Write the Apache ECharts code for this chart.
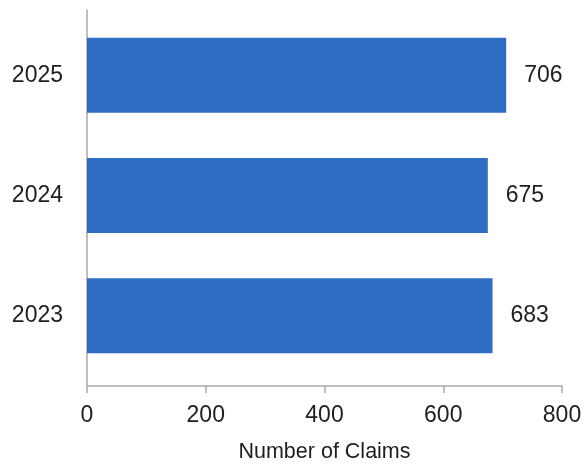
<!DOCTYPE html>
<html>
<head>
<meta charset="utf-8">
<script src="https://cdn.jsdelivr.net/npm/echarts@6/dist/echarts.min.js"></script>
<style>
  html, body { margin: 0; padding: 0; background: #ffffff; }
  #chart { width: 587px; height: 468px; }
</style>
</head>
<body>
<div id="chart"></div>
<script>
const categories = ['2023', '2024', '2025'];
const claims = [683, 675, 706];
const xTicks = [0, 200, 400, 600, 800];
const xTitle = 'Number of Claims';

const narrow = "'Liberation Sans Narrow', 'Arial Narrow', 'Liberation Sans', Arial, sans-serif";
const textColor = '#1e1e1e';
const axisColor = '#a9a9a9';

const chart = echarts.init(document.getElementById('chart'), null, { renderer: 'canvas' });
chart.setOption({
  backgroundColor: '#ffffff',
  animation: false,
  grid: [
    { left: 87, right: 25, top: 15, height: 361 },
    { left: 87, right: 25, top: 10, height: 382 }
  ],
  xAxis: [
    { gridIndex: 0, type: 'value', min: xTicks[0], max: xTicks[xTicks.length - 1], interval: 200, show: false },
    {
      gridIndex: 1, type: 'value', min: xTicks[0], max: xTicks[xTicks.length - 1], interval: 200,
      axisLine: { show: true, lineStyle: { color: axisColor, width: 1.5 } },
      axisTick: { show: true, length: 7, lineStyle: { color: axisColor, width: 1.5 } },
      axisLabel: { color: textColor, fontFamily: narrow, fontSize: 23, margin: 18 },
      splitLine: { show: false },
      name: xTitle, nameLocation: 'middle', nameGap: 55,
      nameTextStyle: { color: textColor, fontFamily: "'Liberation Sans', Arial, sans-serif", fontSize: 21.5 }
    }
  ],
  yAxis: [
    {
      gridIndex: 0, type: 'category', data: categories,
      axisLine: { show: false }, axisTick: { show: false },
      axisLabel: { color: textColor, fontFamily: narrow, fontSize: 23, margin: 24 }
    },
    {
      gridIndex: 1, type: 'value', min: 0, max: 1,
      axisLine: { show: true, lineStyle: { color: axisColor, width: 1.5 } },
      axisTick: { show: false }, axisLabel: { show: false }, splitLine: { show: false }
    }
  ],
  series: [{
    type: 'bar',
    xAxisIndex: 0, yAxisIndex: 0,
    data: claims,
    barWidth: 75,
    itemStyle: { color: '#2f6cc3' },
    label: {
      show: true, position: 'right', distance: 18,
      color: textColor, fontFamily: narrow, fontSize: 23
    }
  }]
});
</script>
</body>
</html>
